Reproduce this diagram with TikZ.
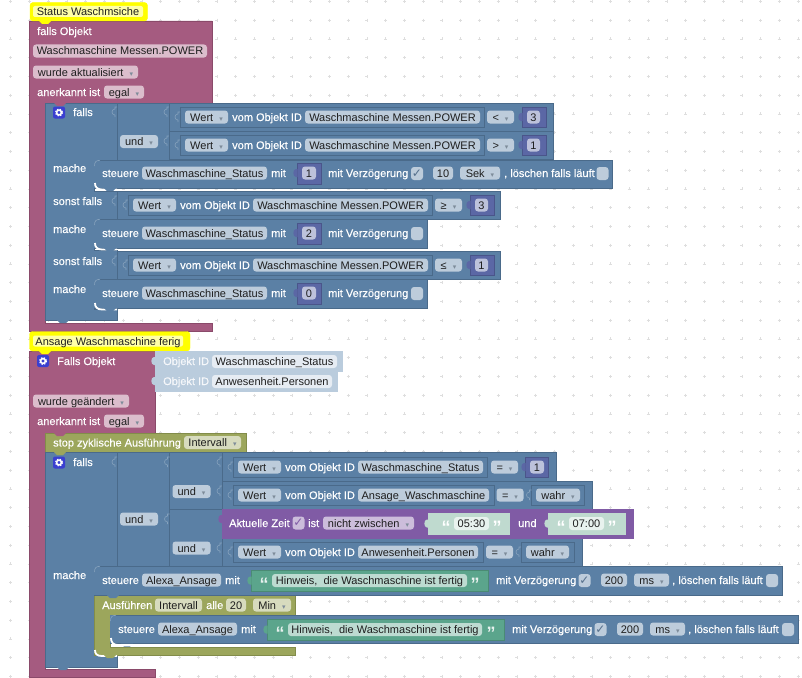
\documentclass[tikz,border=0pt]{standalone}
\usepackage{fontspec}
\setmainfont{Liberation Sans}
\newfontfamily\symfont{DejaVu Sans}
\newfontfamily\lblfont[FakeBold=0.25]{Liberation Sans}
\usetikzlibrary{positioning}

\definecolor{pinkblk}{HTML}{A55B80}
\definecolor{pinkline}{HTML}{8A4A6A}
\definecolor{pinkfld}{HTML}{DBBDCC}
\definecolor{blueblk}{HTML}{5B80A5}
\definecolor{blueline}{HTML}{4A6A8A}
\definecolor{bluefld}{HTML}{BDCCDB}
\definecolor{bluelight}{HTML}{85A1BC}
\definecolor{oliveblk}{HTML}{9CA65C}
\definecolor{oliveline}{HTML}{828C4A}
\definecolor{olivefld}{HTML}{D7DBBE}
\definecolor{greenblk}{HTML}{5BA58C}
\definecolor{greenline}{HTML}{4A8A74}
\definecolor{greenfld}{HTML}{BDDBD1}
\definecolor{paleblk}{HTML}{BFDACF}
\definecolor{palefld}{HTML}{E8F2EE}
\definecolor{purpleblk}{HTML}{805BA5}
\definecolor{purplefld}{HTML}{CCBDDB}
\definecolor{numblk}{HTML}{5B67A5}
\definecolor{numline}{HTML}{4A558A}
\definecolor{numfld}{HTML}{BDC2DB}
\definecolor{objblk}{HTML}{BACCDD}
\definecolor{objfld}{HTML}{E6ECF3}
\definecolor{hatyellow}{HTML}{FFFF00}
\definecolor{hatpale}{HTML}{FFFFA8}
\definecolor{gearblue}{HTML}{3A3FD0}
\definecolor{griddot}{HTML}{DEDEDE}
\definecolor{fldtext}{HTML}{1E1E1E}
\definecolor{chkmark}{HTML}{56708C}
\definecolor{ddmark}{HTML}{7E8C9A}

\newcommand{\ddm}{\hspace{6pt}{\symfont\fontsize{7}{7}\selectfont\textcolor{ddmark}{▾}}}

\tikzset{
  x=1pt, y=-1pt,
  blk/.style    ={fill=#1blk, draw=#1line, line width=0.5pt},
  fld/.style    ={fill=bluefld, rounded corners=3pt, inner sep=0pt, minimum height=13pt,
                  text=fldtext, font=\fontsize{11}{13}\selectfont, text height=8.6pt, text depth=0.6pt},
  lbl/.style    ={anchor=west, inner sep=0pt, text=white, font=\lblfont\fontsize{11}{13}\selectfont,
                  text height=8.6pt, text depth=0.6pt},
  chk/.style    ={fld, minimum width=12pt, minimum height=13pt, font=\symfont\fontsize{12}{12}\selectfont,
                  text height=7pt, text depth=0pt, text=chkmark},
  quo/.style    ={inner sep=0pt, text=white!85!greenblk, font=\bfseries\fontsize{18}{18}\selectfont},
  hatlbl/.style ={fill=hatpale, rounded corners=2pt, inner sep=0pt, minimum height=11pt,
                  text=fldtext, font=\fontsize{11}{13}\selectfont, text height=8.6pt, text depth=0.6pt},
  inset/.style  ={draw=blueline, line width=0.5pt},
  gapline/.style={draw=white, line width=1.8pt},
  sock/.style   ={draw=bluelight, line width=0.6pt},
  notch/.pic    ={\fill[pic actions] (-6,0) -- (-3,3) -- (3,3) -- (6,0) -- cycle;},
  tab/.pic      ={\fill[pic actions] (0.5,-4) -- (-1,-4) .. controls (-4.5,-4) and (-4.5,4) .. (-1,4) -- (0.5,4) -- cycle;},
  socket/.pic   ={\draw[pic actions] (0,-5) -- (-2,-5) -- (-2,-3) .. controls (-6,-3) and (-6,3) .. (-2,3) -- (-2,5);},
  gear/.pic     ={\fill[gearblue, rounded corners=2pt] (-6,-6) rectangle (6,6);
                  \draw[white, line width=1.5pt] (0,0) circle (2.4);
                  \draw[white, line width=1.2pt, dash pattern=on 1.4pt off 1.4pt] (0,0) circle (3.5);},
}

\begin{document}
\begin{tikzpicture}
  \useasboundingbox (0,0) rectangle (802,677);
  \fill[white] (0,0) rectangle (802,677);

  % workspace grid
  \foreach \i in {0,...,42}
    \foreach \j in {0,...,36}
      \draw[griddot, line width=0.6pt] (10.7+18.75*\i-1.5,1.4+18.75*\j) -- ++(3,0)
                                       (10.7+18.75*\i,1.4+18.75*\j-1.5) -- ++(0,3);

  % ---- first trigger ----
  \draw[blk=pink] (29,21) -- (212,21) -- (212,103) -- (45,103) -- (45,323)
                  -- (212,323) -- (212,331) -- (29,331) -- cycle;
  \draw[hatyellow, fill=hatyellow, rounded corners=3pt] (30,2.5) rectangle (147.5,21);
  \pic[fill=hatyellow] at (45,21) {notch};
  \pic[fill=pinkblk] at (46,331) {notch};
  \node[hatlbl, minimum width=110pt] (hat1) at (88,11.5) {Status Waschmsiche};
  \node[lbl] (trig1) at (37,31) {falls Objekt};
  \node[fld, fill=pinkfld, minimum width=174pt] (obj1) at (120,51) {Waschmaschine Messen.POWER};
  \node[fld, fill=pinkfld, minimum width=105pt] (upd1) at (85.5,72) {wurde aktualisiert\ddm};
  \node[lbl] (ack1) at (37,92) {anerkannt ist};
  \node[fld, fill=pinkfld, minimum width=40pt] (egal1) at (124,92) {egal\ddm};

  % outer if block with its three conditions
  \draw[blk=blue] (45,103) -- (117,103) -- (117,160) -- (94,160) -- (94,191) -- (117,191)
                  -- (117,219) -- (94,219) -- (94,250) -- (117,250) -- (117,279) -- (94,279)
                  -- (94,309) -- (117,309) -- (117,320) -- (45,320) -- cycle;
  \pic[fill=pinkblk] at (60,103) {notch};
  \pic[fill=blueblk] at (63,320) {notch};
  \pic at (59,112.5) {gear};
  \node[lbl] (if1) at (73,112) {falls};
  \node[lbl] (do1) at (53,168) {mache};
  \node[lbl] (else1) at (53,201) {sonst falls};
  \node[lbl] (do2) at (53,229) {mache};
  \node[lbl] (else2) at (53,261) {sonst falls};
  \node[lbl] (do3) at (53,289) {mache};
  \draw[blk=blue] (117,103) rectangle (169,160);
  \node[fld, minimum width=38pt] (and1) at (139,141.5) {und\ddm};
  \foreach \y in {112,201,261} \pic[sock] at (117,\y) {socket};
  \foreach \y in {112,141} \pic[sock] at (169,\y) {socket};

  % compare rows, the lower two sit further to the left
  \foreach \n/\dx/\y/\r/\op/\val in {a/0/117/553/</3, b/0/145/553/>/1, c/-52/205/500/≥/3, d/-52/265/500/≤/1} {
    \draw[blk=blue] (169+\dx,\y-14) rectangle (\r,\y+14.5);
    \draw[inset] (180+\dx,\y-10) rectangle (484+\dx,\y+10);
    \pic[sock] at (180+\dx,\y) {socket};
    \node[fld, minimum width=43pt] (wert\n) at (206.5+\dx,\y) {Wert\ddm};
    \node[lbl] (vom\n) at (232+\dx,\y) {vom Objekt ID};
    \node[fld, minimum width=175pt] (id\n) at (392.5+\dx,\y) {Waschmaschine Messen.POWER};
    \node[fld, minimum width=27pt] (op\n) at (500.5+\dx,\y) {\op\ddm};
    \draw[blk=num] (522+\dx,\y-10) rectangle (546+\dx,\y+10);
    \pic[fill=numblk] at (522+\dx,\y) {tab};
    \node[fld, fill=numfld, minimum width=13pt] (val\n) at (533.5+\dx,\y) {\val};
  }

  % actuator rows writing the status
  \foreach \t/\b/\r in {160/188/612, 219/248/427, 279/308/427} {
    \fill[blueblk] (94,\t) rectangle (\r,\b);
    \draw[blueline, line width=0.5pt] (100,\t) -- (\r,\t) -- (\r,\b) -- (94,\b);
    \draw[sock] (94.5,\t+6) .. controls (94.5,\t+2) and (96,\t+0.3) .. (100,\t+0.3);
    \draw[gapline] (95,\b-5) .. controls (95,\b-1) and (97,\b+1.5) .. (102,\b+1.5) -- (117,\b+1.5);
    \pic[fill=blueblk] at (110,\b) {notch};
  }
  \foreach \n/\y/\val in {e/173/1, f/233/2, g/293/0} {
    \node[lbl] (set\n) at (102,\y) {steuere};
    \node[fld, minimum width=125pt] (st\n) at (204.5,\y) {Waschmaschine\_Status};
    \node[lbl] (mit\n) at (271,\y) {mit};
    \draw[blk=num] (297,\y-10) rectangle (321,\y+11);
    \pic[fill=numblk] at (297,\y) {tab};
    \node[fld, fill=numfld, minimum width=14pt] (val\n) at (309,\y) {\val};
    \node[lbl] (dly\n) at (328,\y) {mit Verzögerung};
  }
  \node[chk] (chke) at (417,173.5) {✓};
  \node[chk] (chkf) at (417,233.5) {};
  \node[chk] (chkg) at (417,293.5) {};
  \node[fld, minimum width=20pt] (time1) at (443,173) {10};
  \node[fld, minimum width=40pt] (unit1) at (480,173) {Sek\ddm};
  \node[lbl] (clr1) at (504,173) {, löschen falls läuft};
  \node[chk] (clrbox1) at (602.5,173.5) {};

  % ---- second trigger ----
  \draw[blk=pink] (29,351) -- (155,351) -- (155,433) -- (45,433) -- (45,669) -- (155,669)
                  -- (155,677) -- (29,677) -- cycle;
  \draw[hatyellow, fill=hatyellow, rounded corners=3pt] (29.5,331.5) rectangle (190,351);
  \pic[fill=hatyellow] at (45,351) {notch};
  \node[hatlbl, minimum width=150pt] (hat2) at (108,341) {Ansage Waschmaschine ferig};
  \pic at (43,361) {gear};
  \node[lbl] (trig2) at (57,361) {Falls Objekt};
  \draw[fill=objblk, draw=objblk] (155,351.5) rectangle (342,371.5);
  \draw[fill=objblk, draw=objblk] (155,372) rectangle (337,391.5);
  \pic[fill=objblk] at (155,361) {tab};
  \pic[fill=objblk] at (155,381) {tab};
  \node[lbl, text=white!85!objblk] (oid1) at (163,361) {Objekt ID};
  \node[fld, fill=objfld, minimum width=125pt] (oidf1) at (274.5,361.5) {Waschmaschine\_Status};
  \node[lbl, text=white!85!objblk] (oid2) at (163,381) {Objekt ID};
  \node[fld, fill=objfld, minimum width=120pt] (oidf2) at (272,381.5) {Anwesenheit.Personen};
  \node[fld, fill=pinkfld, minimum width=96pt] (upd2) at (81,401) {wurde geändert\ddm};
  \node[lbl] (ack2) at (37,421) {anerkannt ist};
  \node[fld, fill=pinkfld, minimum width=40pt] (egal2) at (124,421) {egal\ddm};

  % stop block and second if block
  \draw[blk=olive] (45,433) rectangle (246,452);
  \pic[fill=pinkblk] at (60,433) {notch};
  \node[lbl] (stop1) at (53,442.5) {stop zyklische Ausführung};
  \node[fld, fill=olivefld, minimum width=57pt] (stopf) at (212.5,442.5) {Intervall\ddm};

  \draw[blk=blue] (45,452) -- (117,452) -- (117,566) -- (94,566) -- (94,655) -- (117,655)
                  -- (117,667) -- (45,667) -- cycle;
  \pic[fill=oliveblk] at (60,452) {notch};
  \pic[fill=blueblk] at (63,667) {notch};
  \pic at (59,462.5) {gear};
  \node[lbl] (if2) at (73,462) {falls};
  \node[lbl] (do4) at (53,575) {mache};
  \draw[blk=blue] (117,452) rectangle (169.5,566);
  \draw[blk=blue] (169.5,452) rectangle (222,509);
  \draw[blk=blue] (169.5,509) rectangle (222,566);
  \node[fld, minimum width=38pt] (and2) at (139,519) {und\ddm};
  \node[fld, minimum width=38pt] (and3) at (191.5,491.5) {und\ddm};
  \node[fld, minimum width=38pt] (and4) at (191.5,548) {und\ddm};
  \pic[sock] at (117,462) {socket};
  \foreach \y in {462,519} \pic[sock] at (169.5,\y) {socket};
  \foreach \y in {462,491,548} \pic[sock] at (222,\y) {socket};

  % the four conditions inside the nested und blocks
  \draw[blk=blue] (222,452.5) rectangle (556,481);
  \draw[blk=blue] (222,481) rectangle (592,509);
  \draw[blk=blue] (222,538) rectangle (582,566);
  \foreach \n/\y/\outr/\idw/\idt in {h/467/487/125/Waschmaschine\_Status, i/495/494/131/Ansage\_Waschmaschine, j/552/483/120/Anwesenheit.Personen} {
    \draw[inset] (233,\y-10) rectangle (\outr,\y+10);
    \pic[sock] at (233,\y) {socket};
    \node[fld, minimum width=43pt] (wert\n) at (259.5,\y) {Wert\ddm};
    \node[lbl] (vom\n) at (285,\y) {vom Objekt ID};
    \node[fld, minimum width=\idw pt] (id\n) at (358+\idw/2,\y) {\idt};
  }
  \node[fld, minimum width=27pt] (oph) at (504.5,467) {=\ddm};
  \draw[blk=num] (525,457) rectangle (548,477);
  \pic[fill=numblk] at (525,467) {tab};
  \node[fld, fill=numfld, minimum width=14pt] (valh) at (537,467) {1};
  \node[fld, minimum width=27pt] (opi) at (510,495) {=\ddm};
  \draw[inset] (531.5,485) rectangle (584,505);
  \pic[sock] at (531.5,495) {socket};
  \node[fld, minimum width=44pt] (wahri) at (558,495) {wahr\ddm};
  \node[fld, minimum width=27pt] (opj) at (499.5,552) {=\ddm};
  \draw[inset] (521,542) rectangle (574,562);
  \pic[sock] at (521,552) {socket};
  \node[fld, minimum width=43pt] (wahrj) at (547.5,552) {wahr\ddm};

  % time window row
  \draw[fill=purpleblk, draw=purpleblk] (222,509) rectangle (633,538);
  \pic[fill=purpleblk] at (222,519) {tab};
  \node[lbl] (now) at (229,523) {Aktuelle Zeit};
  \node[chk, fill=purplefld, text=purpleblk] (nowbox) at (298.5,523) {✓};
  \node[lbl] (ist) at (308,523) {ist};
  \node[fld, fill=purplefld, minimum width=91pt] (range) at (368.5,523) {nicht zwischen\ddm};
  \foreach \n/\l/\r/\fc/\txt in {k/428/510/471.5/05:30, l/548/625.5/586.5/07:00} {
    \fill[paleblk] (\l,513) rectangle (\r,534.5);
    \pic[fill=paleblk] at (\l,523.5) {tab};
    \node[quo, text=white] (qo\n) at (\fc-25.5,527) {“};
    \node[fld, fill=palefld, minimum width=35pt] (tm\n) at (\fc,523.5) {\txt};
    \node[quo, text=white] (qc\n) at (\fc+25.5,527) {”};
  }
  \node[lbl] (und5) at (518,523) {und};

  % announcement row and interval loop
  \draw[blk=olive] (94,595) -- (295,595) -- (295,615) -- (110,615) -- (110,647) -- (295,647)
                   -- (295,655) -- (94,655) -- cycle;
  \fill[blueblk] (94,566) rectangle (782,595);
  \draw[blueline, line width=0.5pt] (100,566) -- (782,566) -- (782,595) -- (94,595);
  \draw[sock] (94.5,572) .. controls (94.5,568) and (96,566.3) .. (100,566.3);
  \pic[fill=blueblk] at (113,595) {notch};
  \draw[gapline] (95,650) .. controls (95,654) and (97,656) .. (102,656) -- (117,656);
  \node[lbl] (run) at (102,605) {Ausführen};
  \node[fld, fill=olivefld, minimum width=47pt] (runf) at (178.5,605) {Intervall};
  \node[lbl] (alle) at (206,605) {alle};
  \node[fld, fill=olivefld, minimum width=20pt] (every) at (236,605) {20};
  \node[fld, fill=olivefld, minimum width=38pt] (min) at (272,605) {Min\ddm};
  \fill[blueblk] (110,615) rectangle (798,643.5);
  \draw[blueline, line width=0.5pt] (116,615) -- (798,615) -- (798,643.5) -- (110,643.5);
  \draw[bluelight, line width=0.6pt] (110.5,621) .. controls (110.5,617) and (112,615.3) .. (116,615.3);
  \pic[fill=oliveblk] at (110,655) {notch};
  \pic[fill=blueblk] at (127,643.5) {notch};
  \draw[gapline] (111,638) .. controls (111,642) and (113,645) .. (118,645) -- (150,645);

  \foreach \n/\dx/\y/\fw in {m/0/580/195, n/16/629/194} {
    \node[lbl] (set\n) at (102+\dx,\y) {steuere};
    \node[fld, minimum width=79pt] (al\n) at (181.5+\dx,\y) {Alexa\_Ansage};
    \node[lbl] (mit\n) at (225+\dx,\y) {mit};
    \draw[blk=green] (251+\dx,\y-10) rectangle (488+\dx,\y+11.5);
    \pic[fill=greenblk] at (251+\dx,\y+0.5) {tab};
    \node[quo] (qo\n) at (264+\dx,\y+4) {“};
    \node[fld, fill=greenfld, minimum width=\fw pt] (msg\n) at (272+\dx+\fw/2,\y+0.5) {Hinweis,\ \ die Waschmaschine ist fertig};
    \node[quo] (qc\n) at (475+\dx,\y+4) {”};
    \node[lbl] (dly\n) at (496+\dx,\y) {mit Verzögerung};
    \node[chk] (chk\n) at (584.5+\dx,\y+0.5) {✓};
    \node[fld, minimum width=26pt] (time\n) at (614+\dx,\y) {200};
    \node[fld, minimum width=35pt] (unit\n) at (651.5+\dx,\y) {ms\ddm};
    \node[lbl] (clr\n) at (672+\dx,\y) {, löschen falls läuft};
    \node[chk] (clrbox\n) at (772+\dx,\y+0.5) {};
  }
\end{tikzpicture}
\end{document}
